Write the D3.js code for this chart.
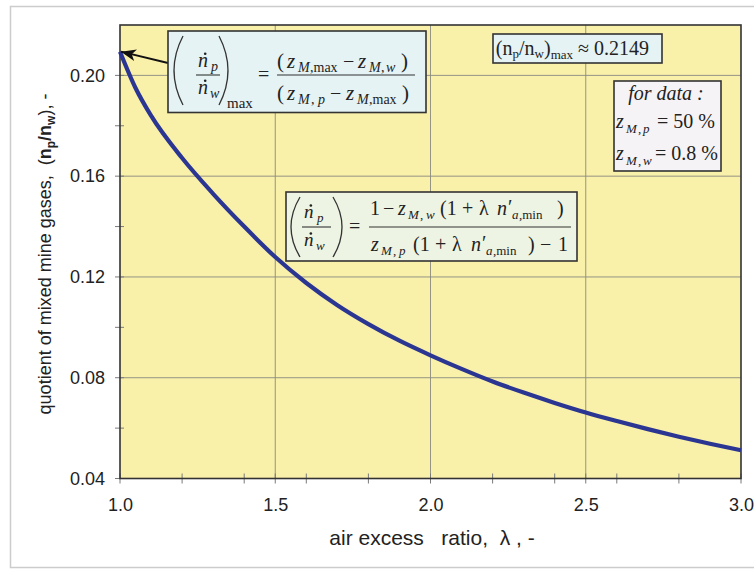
<!DOCTYPE html>
<html><head><meta charset="utf-8">
<script src="https://cdn.jsdelivr.net/npm/d3@7"></script>
<style>
body{margin:0;background:#fff;}
svg{display:block;}
text{white-space:pre;}
</style>
</head><body>
<svg id="chart" width="754" height="577"></svg>
<script>
// ---------------- data ----------------
const lambdaValues   = [1.00, 1.05, 1.10, 1.20, 1.30, 1.40, 1.50, 1.60, 1.70, 1.80, 1.90, 2.00,
                        2.10, 2.20, 2.30, 2.40, 2.50, 2.60, 2.70, 2.80, 2.90, 3.00];
const quotientValues = [0.2094, 0.1950, 0.1840, 0.1672, 0.1530, 0.1400, 0.1279, 0.1176, 0.1088, 0.1013, 0.0947, 0.0889,
                        0.0835, 0.0785, 0.0741, 0.0700, 0.0662, 0.0628, 0.0596, 0.0566, 0.0538, 0.0512];
const xMajorTicks = [1.0, 1.5, 2.0, 2.5, 3.0];
const xMinorTicks = [1.2, 1.4, 1.6, 1.8, 2.2, 2.4, 2.6, 2.8];
const yMajorTicks = [0.04, 0.08, 0.12, 0.16, 0.20];
const yMinorTicks = [0.06, 0.10, 0.14, 0.18];
const xDomain = [1.0, 3.0];
const yDomain = [0.04, 0.22];
const xTitle = "air excess   ratio,  \u03BB , -";
const yTitleStart = "quotient of mixed mine gases,  (";
const maxLabelValue = "0.2149";

// ---------------- layout ----------------
const svg = d3.select("#chart");
const L = 120, R = 741, T = 25, B = 478.5;
const x = d3.scaleLinear().domain(xDomain).range([L, R]);
const y = d3.scaleLinear().domain(yDomain).range([B, T]);
const SANS = "'Liberation Sans', Arial, sans-serif";
const SERIF = "'Liberation Serif', 'Times New Roman', serif";

// outer frame
svg.append("rect").attr("x", 10.5).attr("y", 6.5).attr("width", 780).attr("height", 561)
  .attr("fill", "#fff").attr("stroke", "#cccccc").attr("stroke-width", 1.5);

// plot background
svg.append("rect").attr("x", L).attr("y", T).attr("width", R - L).attr("height", B - T)
  .attr("fill", "#f9f0a9");

// grid lines
const grid = svg.append("g").attr("stroke", "#8a8a80").attr("stroke-width", 0.9);
grid.selectAll("line.h").data(yMajorTicks.filter(v => v > yDomain[0])).join("line")
  .attr("x1", L).attr("x2", R).attr("y1", d => y(d)).attr("y2", d => y(d));
grid.selectAll("line.v").data(xMajorTicks.filter(v => v > xDomain[0] && v < xDomain[1])).join("line")
  .attr("y1", T).attr("y2", B).attr("x1", d => x(d)).attr("x2", d => x(d));

// axes via d3
const xAxis = d3.axisBottom(x).tickValues(xMajorTicks).tickFormat(d3.format(".1f")).tickSize(0).tickPadding(20);
const gx = svg.append("g").attr("transform", `translate(0,${B})`).call(xAxis);
gx.select(".domain").remove();
gx.selectAll("text").attr("font-family", SANS).attr("font-size", 18).attr("fill", "#222");

const yAxis = d3.axisLeft(y).tickValues(yMajorTicks).tickFormat(d3.format(".2f")).tickSize(0).tickPadding(15);
const gy = svg.append("g").attr("transform", `translate(${L},0)`).call(yAxis);
gy.select(".domain").remove();
gy.selectAll("text").attr("font-family", SANS).attr("font-size", 18).attr("fill", "#222");

// tick marks (crossing the axis lines)
const ticks = svg.append("g").attr("stroke", "#7a7a7a").attr("stroke-width", 1);
ticks.selectAll("line.xt").data(xMajorTicks.concat(xMinorTicks)).join("line")
  .attr("x1", d => x(d)).attr("x2", d => x(d)).attr("y1", B - 5).attr("y2", B + 5);
ticks.selectAll("line.yt").data(yMajorTicks.concat(yMinorTicks)).join("line")
  .attr("y1", d => y(d)).attr("y2", d => y(d)).attr("x1", L - 5).attr("x2", L + 4);

// plot border
svg.append("rect").attr("x", L).attr("y", T).attr("width", R - L).attr("height", B - T)
  .attr("fill", "none").attr("stroke", "#333").attr("stroke-width", 1.6);

// curve
const pts = lambdaValues.map((l, i) => [l, quotientValues[i]]);
svg.append("path").datum(pts)
  .attr("d", d3.line().x(d => x(d[0])).y(d => y(d[1])).curve(d3.curveMonotoneX))
  .attr("fill", "none").attr("stroke", "#2b3592").attr("stroke-width", 4.2)
  .attr("stroke-linejoin", "round").attr("stroke-linecap", "butt");

// axis titles
svg.append("text").attr("x", 432).attr("y", 545).attr("text-anchor", "middle")
  .attr("font-family", SANS).attr("font-size", 21).attr("fill", "#222").text(xTitle);

const yt = svg.append("text").attr("transform", "translate(51,254) rotate(-90)")
  .attr("text-anchor", "middle").attr("font-family", SANS).attr("font-size", 18).attr("fill", "#222");
yt.append("tspan").text(yTitleStart);
yt.append("tspan").attr("font-weight", "bold").text("n");
yt.append("tspan").attr("font-weight", "bold").attr("font-size", 12).attr("dy", 4).text("p");
yt.append("tspan").attr("font-weight", "bold").attr("dy", -4).text("/n");
yt.append("tspan").attr("font-weight", "bold").attr("font-size", 12).attr("dy", 4).text("w");
yt.append("tspan").attr("dy", -4).text("), -");

// ---------------- annotations ----------------
function box(x0, y0, x1, y1, fill) {
  svg.append("rect").attr("x", x0).attr("y", y0).attr("width", x1 - x0).attr("height", y1 - y0)
    .attr("fill", fill).attr("stroke", "#333").attr("stroke-width", 1.6);
}
function tok(t, tx, ty, size, italic, anchor) {
  return svg.append("text").attr("x", tx).attr("y", ty).attr("font-family", SERIF)
    .attr("font-size", size).attr("font-style", italic ? "italic" : "normal")
    .attr("text-anchor", anchor || "start").attr("fill", "#222").text(t);
}
function paren(xa, xb, y0, y1) {
  // xa = bulge x, xb = tip x
  const ctrl = xa - (xb - xa);
  svg.append("path").attr("d", `M${xb},${y0} Q${ctrl},${(y0 + y1) / 2} ${xb},${y1}`)
    .attr("fill", "none").attr("stroke", "#333").attr("stroke-width", 1.3);
}
function ndot(tx, ty, size) {
  tok("n", tx, ty, size, true);
  svg.append("circle").attr("cx", tx + size * 0.36).attr("cy", ty - size * 0.66).attr("r", 1.3).attr("fill", "#222");
}
function fracLine(x0, x1, yy) {
  svg.append("line").attr("x1", x0).attr("x2", x1).attr("y1", yy).attr("y2", yy)
    .attr("stroke", "#333").attr("stroke-width", 1.1);
}

// arrow from box 1 to the curve start
const defs = svg.append("defs");
defs.append("marker").attr("id", "arr").attr("markerUnits", "userSpaceOnUse")
  .attr("markerWidth", 16).attr("markerHeight", 12).attr("refX", 15).attr("refY", 6).attr("orient", "auto")
  .append("path").attr("d", "M0,0 L15,6 L0,12 L4,6 Z").attr("fill", "#111");
svg.append("line").attr("x1", 168).attr("y1", 63).attr("x2", x(lambdaValues[0]) + 1).attr("y2", y(quotientValues[0]))
  .attr("stroke", "#111").attr("stroke-width", 1.8).attr("marker-end", "url(#arr)");

// box 1: maximum formula
box(168, 31, 426, 112.5, "#e5f3f4");
paren(174, 183, 36, 105);
paren(228, 219, 36, 105);
ndot(198, 67, 20); tok("p", 211, 71, 14, true);
fracLine(196, 220, 75);
ndot(198, 94, 20); tok("w", 210, 98, 14, true);
tok("max", 227, 108, 15, false);
tok("=", 258, 81, 20, false);
fracLine(277, 415, 75);
tok("(", 277, 68, 21, false); tok("z", 287, 68, 21, true);
tok("M", 298, 72, 14, true); tok(",max", 310, 72, 14, false);
tok("\u2212", 343, 68, 20, false);
tok("z", 358, 68, 21, true); tok("M", 369, 72, 14, true); tok(",", 381, 72, 14, false); tok("w", 386, 72, 14, true);
tok(")", 401, 68, 21, false);
tok("(", 277, 100, 21, false); tok("z", 287, 100, 21, true);
tok("M", 298, 104, 14, true); tok(",", 311, 104, 14, false); tok("p", 318, 104, 14, true);
tok("\u2212", 330, 100, 20, false);
tok("z", 346, 100, 21, true); tok("M", 357, 104, 14, true); tok(",max", 369, 104, 14, false);
tok(")", 402, 100, 21, false);

// box 2: general formula
box(286, 192, 577, 261, "#eef4e3");
paren(291, 300, 197, 257);
paren(342, 333, 197, 257);
ndot(304, 218, 19); tok("p", 317, 222, 13, true);
fracLine(302, 331, 227);
ndot(304, 246, 19); tok("w", 316, 250, 13, true);
tok("=", 349, 233, 20, false);
fracLine(369, 571, 227);
// numerator
tok("1", 370, 215, 20, false); tok("\u2212", 383, 215, 20, false);
tok("z", 398, 215, 20, true); tok("M", 408, 219, 13, true); tok(",", 420, 219, 13, false); tok("w", 426, 219, 13, true);
tok("(1", 440, 215, 20, false); tok("+", 462, 215, 20, false);
tok("\u03BB", 479, 215, 20, false);
tok("n", 497, 215, 20, true); tok("\u2032", 508, 214, 20, false);
tok("a", 512, 219, 13, true); tok(",min", 519, 219, 13, false);
tok(")", 557, 215, 20, false);
// denominator
tok("z", 371, 251, 20, true); tok("M", 381, 255, 13, true); tok(",", 393, 255, 13, false); tok("p", 399, 255, 13, true);
tok("(1", 413, 251, 20, false); tok("+", 435, 251, 20, false);
tok("\u03BB", 452, 251, 20, false);
tok("n", 471, 251, 20, true); tok("\u2032", 482, 250, 20, false);
tok("a", 486, 255, 13, true); tok(",min", 493, 255, 13, false);
tok(")", 528, 251, 20, false);
tok("\u2212", 540, 251, 20, false);
tok("1", 558, 251, 20, false);

// box 3: maximum value
box(493, 34, 662, 63, "#e5f3f4");
const t3 = svg.append("text").attr("x", 649).attr("y", 55).attr("text-anchor", "end")
  .attr("font-family", SERIF).attr("font-size", 20).attr("fill", "#222");
t3.append("tspan").text("(n");
t3.append("tspan").attr("font-size", 13).attr("dy", 3).text("p");
t3.append("tspan").attr("dy", -3).text("/n");
t3.append("tspan").attr("font-size", 13).attr("dy", 3).text("w");
t3.append("tspan").attr("dy", -3).text(")");
t3.append("tspan").attr("font-size", 13).attr("dy", 4).text("max");
t3.append("tspan").attr("dy", -4).text(" \u2248 " + maxLabelValue);

// box 4: data
box(614, 81, 721, 171, "#f6f3f6");
tok("for data :", 666, 100, 20, true, "middle");
tok("z", 616, 128, 20, true); tok("M", 626, 133, 13, true); tok(",", 638, 133, 13, false); tok("p", 643, 133, 13, true);
tok("= 50 %", 715, 128, 20, false, "end");
tok("z", 616, 160, 20, true); tok("M", 626, 165, 13, true); tok(",", 638, 165, 13, false); tok("w", 643, 165, 13, true);
tok("= 0.8 %", 718, 160, 20, false, "end");
</script>
</body></html>
